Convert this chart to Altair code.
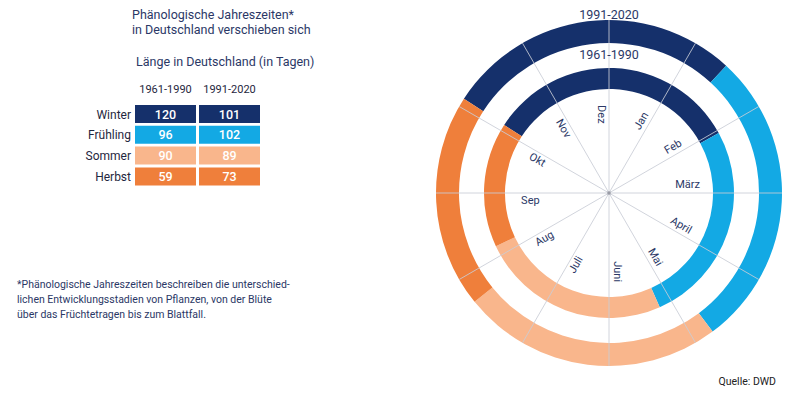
import math
import altair as alt
import pandas as pd

# ---------------- data ----------------
seasons = ["Winter", "Frühling", "Sommer", "Herbst"]
days_1961_1990 = [120, 96, 90, 59]
days_1991_2020 = [101, 102, 89, 73]
periods = ["1961-1990", "1991-2020"]
season_colors = ["#15306b", "#13a9e4", "#f9b68c", "#ef7f3b"]
months = ["Dez", "Jan", "Feb", "März", "April", "Mai", "Juni",
          "Juli", "Aug", "Sep", "Okt", "Nov"]

title_lines = ["Phänologische Jahreszeiten*", "in Deutschland verschieben sich"]
subtitle = "Länge in Deutschland (in Tagen)"
footnote_lines = [
    "*Phänologische Jahreszeiten beschreiben die unterschied-",
    "lichen Entwicklungsstadien von Pflanzen, von der Blüte",
    "über das Früchtetragen bis zum Blattfall.",
]
source_text = "Quelle: DWD"

# ---------------- tables ----------------
rows = []
for c, (p, vals) in enumerate(zip(periods, [days_1961_1990, days_1991_2020])):
    for r, (s, d) in enumerate(zip(seasons, vals)):
        rows.append({"period": p, "season": s, "days": d, "row": r, "col": c})
season_df = pd.DataFrame(rows)
month_df = pd.DataFrame({"month": months, "idx": list(range(len(months)))})

W, H = 784, 381
FONT = "Roboto"
TXT = "#2b3866"
X = alt.Scale(domain=[8, 8 + W], range=[0, W], nice=False, zero=False)
Y = alt.Scale(domain=[8, 8 + H], range=[0, H], nice=False, zero=False)
color = alt.Color("season:N", scale=alt.Scale(domain=seasons, range=season_colors), legend=None)

CX, CY = 609, 193          # centre of the rings (page px)
start = math.radians(303)   # winter start angle
theta_scale = alt.Scale(domain=[0, 365], range=[start, start + 2 * math.pi])

# ---------------- rings ----------------
def ring(period, r_in, r_out):
    return alt.Chart(season_df).transform_filter(
        alt.datum.period == period
    ).mark_arc(radius=r_out, radius2=r_in, stroke=None).encode(
        theta=alt.Theta("days:Q", stack=True, scale=theta_scale),
        order=alt.Order("row:Q"),
        color=color,
        x=alt.value(CX - 8),
        y=alt.value(CY - 8),
    )

inner = ring("1961-1990", 104, 125)
outer = ring("1991-2020", 150, 173)

spokes = alt.Chart(month_df).transform_calculate(
    a="datum.idx * 30 * PI / 180",
    x0=f"{CX}", y0=f"{CY}",
    x1=f"{CX} + 173 * sin(datum.a)",
    y1=f"{CY} - 173 * cos(datum.a)",
).mark_rule(color="#c9ccd6", strokeWidth=1, opacity=0.85).encode(
    x=alt.X("x0:Q", scale=X, axis=None),
    y=alt.Y("y0:Q", scale=Y, axis=None),
    x2="x1:Q", y2="y1:Q",
)

centre_dot = alt.Chart(month_df.head(1)).mark_square(size=10, color="#9a9ca6", opacity=1).encode(
    x=alt.value(CX - 8), y=alt.value(CY - 8)
)

month_labels = alt.Chart(month_df).transform_calculate(
    th="datum.idx == 0 ? 360 : datum.idx * 30",
    a="(datum.th - 5.5) * PI / 180",
    x=f"{CX} + 79 * sin(datum.a)",
    y=f"{CY} - 79 * cos(datum.a)",
    rot="((datum.th <= 180 ? datum.th - 90 : datum.th - 270) + 360) % 360",
).mark_text(font=FONT, fontSize=11, color=TXT, align="center", baseline="middle").encode(
    x=alt.X("x:Q", scale=X, axis=None),
    y=alt.Y("y:Q", scale=Y, axis=None),
    angle=alt.Angle("rot:Q", scale=None),
    text="month:N",
)

ring_titles = alt.Chart(pd.DataFrame({"period": periods, "k": [0, 1]})).transform_calculate(
    y="datum.k == 0 ? 48.5 : 9"
).mark_text(font=FONT, fontSize=12.5, color=TXT, align="center", baseline="top").encode(
    x=alt.value(CX - 8),
    y=alt.Y("y:Q", scale=Y, axis=None),
    text="period:N",
)

# ---------------- table ----------------
cells = alt.Chart(season_df).transform_calculate(
    x="135 + datum.col * 64", x2="196 + datum.col * 64",
    y="105 + datum.row * 20.8", y2="123 + datum.row * 20.8",
).mark_rect().encode(
    x=alt.X("x:Q", scale=X, axis=None), x2="x2:Q",
    y=alt.Y("y:Q", scale=Y, axis=None), y2="y2:Q",
    color=color,
)

cell_text = alt.Chart(season_df).transform_calculate(
    x="165.5 + datum.col * 64", y="114.5 + datum.row * 20.8",
).mark_text(font=FONT, fontSize=12.5, fontWeight=500, color="white",
            align="center", baseline="middle").encode(
    x=alt.X("x:Q", scale=X, axis=None),
    y=alt.Y("y:Q", scale=Y, axis=None),
    text="days:Q",
)

row_labels = alt.Chart(season_df).transform_filter(alt.datum.col == 0).transform_calculate(
    y="114.5 + datum.row * 20.8",
).mark_text(font=FONT, fontSize=12, color="#1f2740", align="right", baseline="middle").encode(
    x=alt.value(131 - 8),
    y=alt.Y("y:Q", scale=Y, axis=None),
    text="season:N",
)

col_headers = alt.Chart(season_df).transform_filter(alt.datum.row == 0).transform_calculate(
    x="165.5 + datum.col * 64",
).mark_text(font=FONT, fontSize=11, color="#1f2740", align="center", baseline="middle").encode(
    x=alt.X("x:Q", scale=X, axis=None),
    y=alt.value(90 - 8),
    text="period:N",
)

# ---------------- free texts ----------------
one = pd.DataFrame({"k": [0]})
title = alt.Chart(one).mark_text(
    text=title_lines, font=FONT, fontSize=12.5, color=TXT, align="left",
    baseline="top", lineHeight=15,
).encode(x=alt.value(132 - 8), y=alt.value(9 - 8))

sub = alt.Chart(one).mark_text(
    text=subtitle, font=FONT, fontSize=12.5, color=TXT, align="left", baseline="middle",
).encode(x=alt.value(136 - 8), y=alt.value(62 - 8))

foot = alt.Chart(one).mark_text(
    text=footnote_lines, font=FONT, fontSize=10.5, color=TXT, align="left",
    baseline="middle", lineHeight=14.8,
).encode(x=alt.value(17 - 8), y=alt.value(285 - 8))

src = alt.Chart(one).mark_text(
    text=source_text, font=FONT, fontSize=10.5, color="#222", align="right", baseline="middle",
).encode(x=alt.value(776 - 8), y=alt.value(382 - 8))

chart = alt.layer(
    inner, outer, spokes, centre_dot, month_labels, ring_titles,
    cells, cell_text, row_labels, col_headers,
    title, sub, foot, src,
).properties(
    width=W, height=H, padding=0, background="white",
    autosize=alt.AutoSizeParams(type="none"),
).configure_view(stroke=None, strokeWidth=0)

chart.save("out.html", embed_options={"renderer": "svg", "actions": False})
